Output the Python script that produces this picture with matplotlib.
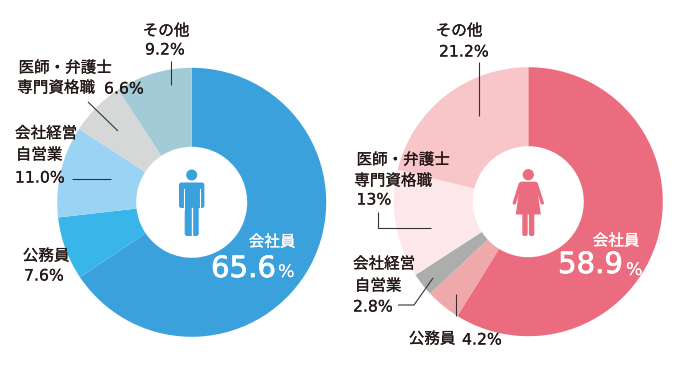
import matplotlib
matplotlib.use('Agg')
import matplotlib.pyplot as plt
import matplotlib.patheffects as pe
from matplotlib.patches import Circle, FancyBboxPatch, Polygon

plt.rcParams['font.family'] = ['Noto Sans CJK JP', 'DejaVu Sans']

H = 381

# men
men_labels = ['会社員', '公務員', '会社経営\n自営業', '医師・弁護士\n専門資格職', 'その他']
men_values = [65.6, 7.6, 11.0, 6.6, 9.2]
men_colors = ['#3ba1dc', '#38b6ea', '#9bd3f5', '#d6d7d7', '#a2cbd7']

# women
women_labels = ['会社員', '公務員', '会社経営\n自営業', '医師・弁護士\n専門資格職', 'その他']
women_values = [58.9, 4.2, 2.8, 13, 21.2]
women_colors = ['#ea6c7e', '#f0a9aa', '#abaeab', '#fce8ea', '#f8c5c9']

DARK = '#231815'


def donut(ax, values, colors, cx, cy, r=134.5, r_in=55.5):
    # slices run clockwise from 12 o'clock
    ax.pie(values, colors=colors, startangle=90, counterclock=False, radius=r,
           center=(cx, H - cy), frame=True, normalize=True,
           wedgeprops=dict(width=r - r_in, linewidth=0))


def label(ax, x, y, s, size=11.2, color=DARK, ha='center'):
    # japanese text, thin stroke to get the medium weight
    ax.text(x, H - y, s, fontsize=size, color=color, ha=ha, va='center',
            path_effects=[pe.withStroke(linewidth=0.2, foreground=color)])


def num(ax, x, y, s, size=11.3, color=DARK, ha='center', stroke=0.15):
    ax.text(x, H - y, s, fontsize=size, color=color, ha=ha, va='center', family='DejaVu Sans',
            path_effects=[pe.withStroke(linewidth=stroke, foreground=color)])


def leader(ax, xs, ys, color='#333333'):
    ax.plot(xs, [H - y for y in ys], color=color, lw=0.8, solid_capstyle='butt', zorder=5)


def rrect(ax, x0, y0, x1, y1, color, rad=2):
    ax.add_patch(FancyBboxPatch((x0 + rad, H - y1 + rad), x1 - x0 - 2 * rad, y1 - y0 - 2 * rad,
                                boxstyle=f'round,pad={rad},rounding_size={rad}',
                                fc=color, ec='none', zorder=6))


def man(ax, cx, color):
    ax.add_patch(Circle((cx, H - 175), 5.5, fc=color, ec='none', zorder=6))
    rrect(ax, cx - 12.7, 182.5, cx + 12.7, 208, color, rad=2.4)
    rrect(ax, cx - 7, 183, cx + 7, 236, color, rad=2.5)
    # gaps between arms and legs
    for dx in (-8, 8):
        ax.plot([cx + dx] * 2, [H - 189, H - 210], color='white', lw=0.8, zorder=7)
    ax.plot([cx, cx], [H - 208, H - 237], color='white', lw=1.0, zorder=7)


def woman(ax, cx, color):
    ax.add_patch(Circle((cx, H - 174.7), 5.6, fc=color, ec='none', zorder=6))
    # dress
    ax.add_patch(Polygon([(cx - 8, H - 181.7), (cx + 8, H - 181.7), (cx + 12.5, H - 214.5),
                          (cx - 12.5, H - 214.5)], fc=color, ec='none', zorder=6))
    # arms
    for side in (-1, 1):
        ax.plot([cx + side * 8, cx + side * 14], [H - 184, H - 203], color=color, lw=2.4, zorder=6,
                solid_capstyle='round')
    # legs
    rrect(ax, cx - 6, 212, cx - 0.6, 236, color, rad=2)
    rrect(ax, cx + 0.6, 212, cx + 6, 236, color, rad=2)


fig = plt.figure(figsize=(6.75, 3.81), dpi=100)
ax = fig.add_axes([0, 0, 1, 1])

donut(ax, men_values, men_colors, 191.7, 202.3)
donut(ax, women_values, women_colors, 528.3, 201.7)

ax.set_xlim(0, 675)
ax.set_ylim(0, H)
ax.set_aspect('equal')
ax.axis('off')

man(ax, 191.7, '#3ba1dc')
woman(ax, 528.3, '#ea6c7e')

# left labels
label(ax, 272, 242, men_labels[0], color='white')
num(ax, 211, 269, f'{men_values[0]}', size=21, color='white', ha='left', stroke=0.6)
num(ax, 278, 272, '%', size=12.5, color='white', ha='left', stroke=0)
label(ax, 46, 256, men_labels[1])
num(ax, 44, 276, f'{men_values[1]}%')
label(ax, 46, 133.5, '会社経営')
label(ax, 39, 155, '自営業')
num(ax, 40, 178, f'{men_values[2]:.1f}%')
label(ax, 65, 68, '医師・弁護士')
label(ax, 56, 88, '専門資格職')
num(ax, 124, 89, f'{men_values[3]}%')
label(ax, 166, 31, men_labels[4])
num(ax, 165, 50, f'{men_values[4]}%')
leader(ax, [72, 111], [178.5, 178.5])
leader(ax, [88, 118], [102, 131])
leader(ax, [171, 171], [61, 85])

# right labels
label(ax, 616, 241, women_labels[0], color='white')
num(ax, 558, 265, f'{women_values[0]}', size=21, color='white', ha='left', stroke=0.6)
num(ax, 626, 270, '%', size=12.5, color='white', ha='left', stroke=0)
label(ax, 432, 339, women_labels[1])
num(ax, 482, 340, f'{women_values[1]}%')
label(ax, 384, 264, '会社経営')
label(ax, 378, 286, '自営業')
num(ax, 373, 307, f'{women_values[2]}%')
label(ax, 403, 160, '医師・弁護士')
label(ax, 393, 181, '専門資格職')
num(ax, 374, 200, f'{women_values[3]}%')
label(ax, 459, 31, women_labels[4])
num(ax, 464, 52, f'{women_values[4]}%')
leader(ax, [398, 414, 433], [305, 305, 278])
leader(ax, [456, 456], [294, 316])
leader(ax, [378, 378, 431], [212, 228, 228])
leader(ax, [479, 479], [62, 116])

fig.savefig('out.png', dpi=100, facecolor='white')
